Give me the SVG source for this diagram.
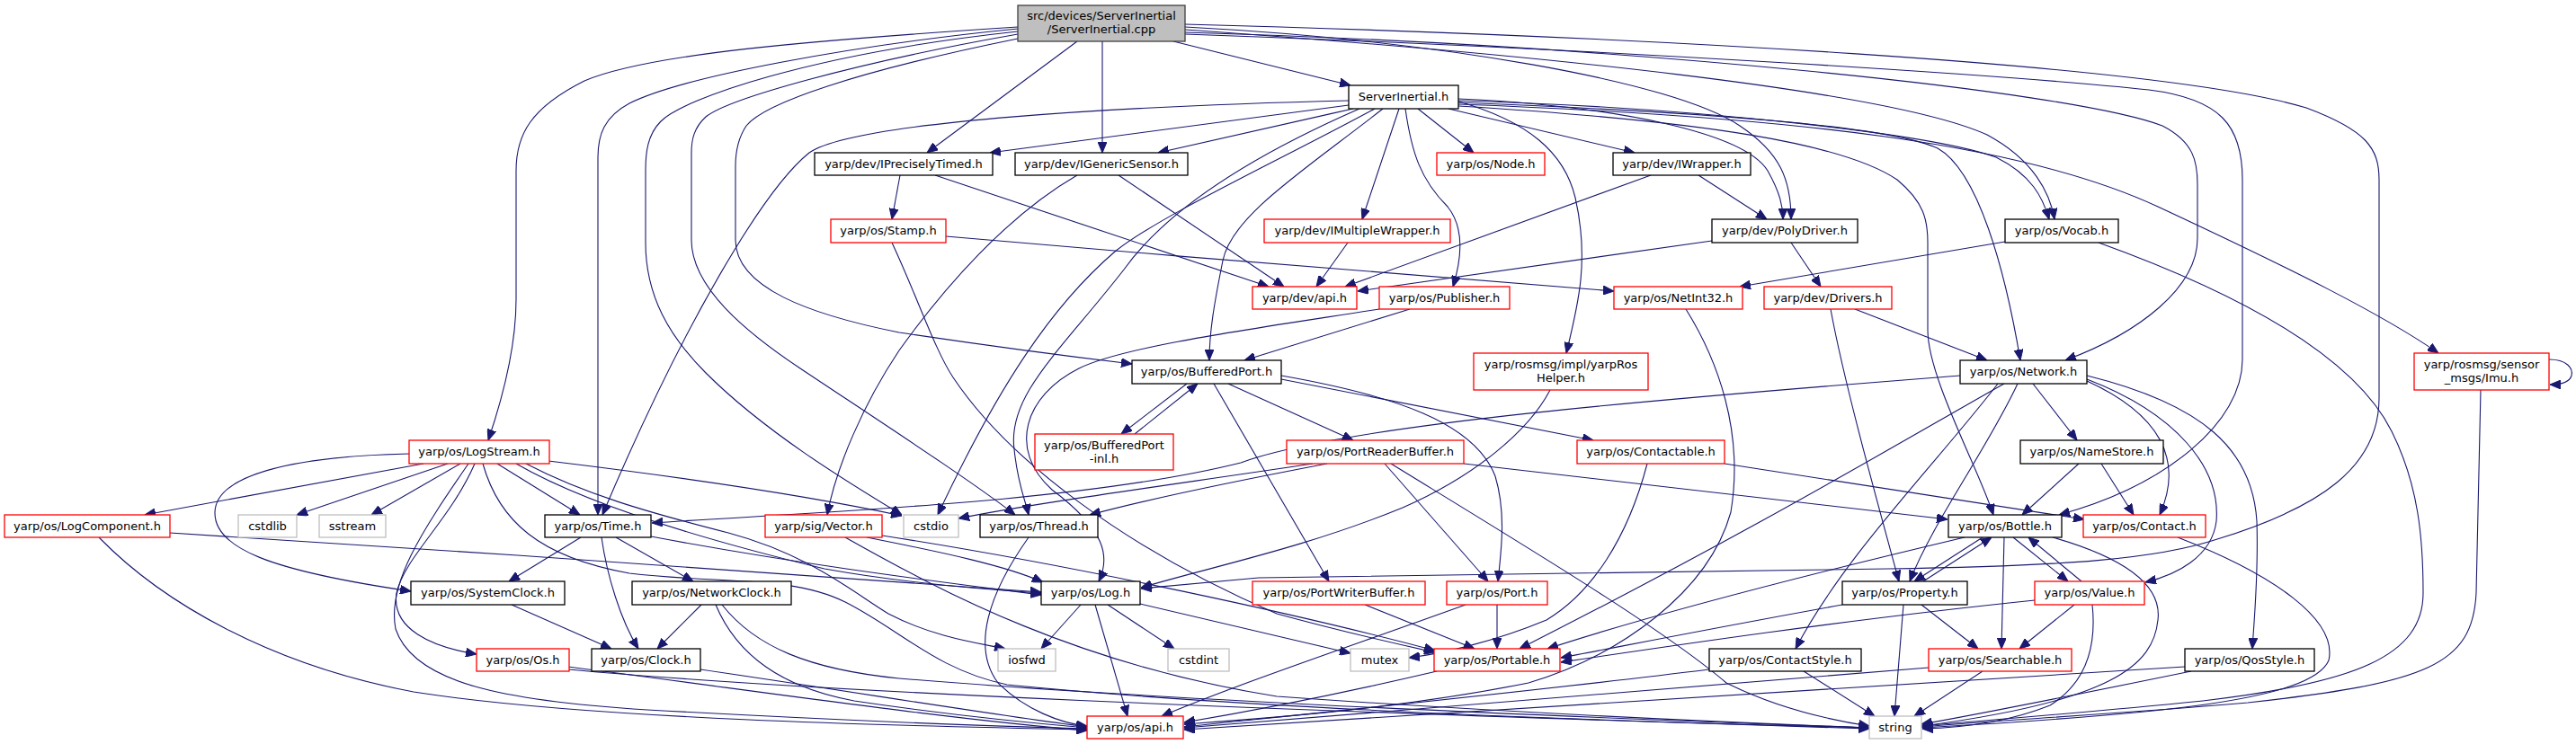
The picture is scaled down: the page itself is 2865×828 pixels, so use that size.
<svg xmlns="http://www.w3.org/2000/svg" width="2865" height="828" viewBox="0 0 2865 828">
<defs>
<marker id="a" markerWidth="12" markerHeight="10" refX="12" refY="5" orient="auto" markerUnits="userSpaceOnUse"><path d="M0,0 L12,5 L0,10 z" fill="#191970" stroke="#191970" stroke-width="1"/></marker>
<style>
rect{fill:#fff;stroke:#000;stroke-width:1.3}
.r rect{stroke:#ff0000}
.g rect{stroke:#bfbfbf}
.m rect{fill:#bfbfbf;stroke:#404040}
text{font-family:"DejaVu Sans","Liberation Sans",sans-serif;font-size:13px;text-anchor:middle;fill:#000}
#edges path{fill:none;stroke:#191970;stroke-width:1.1;marker-end:url(#a)}
</style>
</defs>
<rect x="0" y="0" width="2865" height="828" style="fill:#fff;stroke:none"/>
<g id="edges">
<path d="M1305,46 L1502,95"/>
<path d="M1198,46 L1031,170"/>
<path d="M1226,46 L1226,170"/>
<path d="M1132,30 C900,45 720,60 650,90 C590,120 574,150 574,190 L574,333 C574,385 560,440 543,490"/>
<path d="M1132,32 C950,50 760,85 700,115 C672,130 665,150 665,175 L665,573"/>
<path d="M1132,35 C900,60 760,110 735,135 C720,150 718,170 718,190 L718,270 C718,330 745,375 785,415 C850,480 940,535 1003,573"/>
<path d="M1132,38 C950,70 810,110 785,130 C772,142 769,155 769,170 L769,267 C769,320 830,370 890,410 C980,470 1080,535 1129,573"/>
<path d="M1132,43 C950,80 850,115 830,140 C820,155 818,170 818,185 L818,267 C818,320 900,350 1000,370 C1100,385 1200,398 1259,405"/>
<path d="M1318,30 C1600,45 1860,90 1935,140 C1980,170 1992,200 1992,244"/>
<path d="M1318,33 C1700,60 2100,100 2210,150 C2262,178 2280,215 2285,244"/>
<path d="M1318,36 C1800,50 2300,100 2405,140 C2440,158 2444,180 2444,205 L2444,265 C2444,320 2380,370 2297,401"/>
<path d="M1318,38 C1800,55 2250,85 2390,100 C2470,110 2494,140 2494,200 L2494,400 C2494,470 2410,540 2290,573"/>
<path d="M1318,27 C1800,40 2400,70 2565,120 C2632,145 2646,165 2646,200 L2646,443 C2646,520 2580,565 2466,600 C2400,622 2300,630 2100,633 L1400,643 L1269,655"/>
<path d="M1500,112 C1250,118 950,135 900,170 C850,210 760,360 670,573"/>
<path d="M1500,117 L1101,170"/>
<path d="M1505,121 C1420,140 1330,160 1288,170"/>
<path d="M1512,121 C1400,170 1300,230 1250,300 C1180,390 1120,440 1128,500 C1132,540 1140,555 1144,573"/>
<path d="M1529,121 C1420,180 1290,240 1240,280 C1170,340 1110,430 1043,573"/>
<path d="M1538,121 C1450,190 1370,240 1360,290 C1350,340 1345,370 1345,401"/>
<path d="M1556,121 L1515,244"/>
<path d="M1563,121 C1570,170 1580,200 1610,230 C1630,255 1625,290 1616,319"/>
<path d="M1577,121 L1639,170"/>
<path d="M1611,121 L1818,170"/>
<path d="M1622,113 C1700,135 1740,170 1752,220 C1768,290 1755,340 1742,393"/>
<path d="M1622,110 C1800,118 1940,148 1966,190 C1980,215 1983,230 1983,244"/>
<path d="M1622,112 C1900,120 2150,150 2220,175 C2260,195 2272,220 2279,244"/>
<path d="M1622,114 C1900,125 2100,140 2155,165 C2200,190 2230,300 2247,401"/>
<path d="M1622,116 C2000,130 2250,160 2400,230 C2550,300 2650,350 2712,393"/>
<path d="M1622,118 C1900,135 2050,160 2110,200 C2140,225 2144,245 2144,270 L2144,367 C2144,420 2200,520 2217,573"/>
<path d="M1001,195 L992,244"/>
<path d="M1040,195 L1411,319"/>
<path d="M1198,195 C1120,240 1050,320 1000,390 C960,450 930,520 920,573"/>
<path d="M1244,195 L1428,319"/>
<path d="M1836,195 L1496,319"/>
<path d="M1889,195 L1965,244"/>
<path d="M1052,263 C1300,285 1600,308 1795,324"/>
<path d="M992,270 C1020,330 1040,390 1060,420 C1120,510 1250,610 1420,683 C1500,705 1560,718 1596,726"/>
<path d="M1499,270 L1464,319"/>
<path d="M1904,268 L1510,324"/>
<path d="M1992,270 L2025,319"/>
<path d="M2230,269 L1935,319"/>
<path d="M2334,270 C2500,330 2620,400 2660,480 C2690,540 2695,600 2695,660 C2695,730 2620,760 2450,780 C2300,795 2200,802 2137,808"/>
<path d="M1534,344 C1400,365 1250,385 1200,410 C1140,440 1120,500 1170,545 C1230,590 1235,620 1222,647"/>
<path d="M1568,344 L1384,401"/>
<path d="M1875,344 C1910,400 1940,480 1925,570 C1900,660 1800,730 1700,760 C1550,790 1400,800 1317,806"/>
<path d="M2063,344 L2210,401"/>
<path d="M2036,344 C2050,420 2080,530 2112,647"/>
<path d="M1320,427 L1247,483"/>
<path d="M1262,483 L1332,427"/>
<path d="M1366,427 L1505,490"/>
<path d="M1425,422 L1772,490"/>
<path d="M1425,418 C1550,440 1640,470 1663,530 C1675,570 1670,610 1666,647"/>
<path d="M1350,427 L1478,647"/>
<path d="M1724,434 C1700,480 1640,530 1560,565 C1450,610 1350,630 1269,654"/>
<path d="M2180,418 C1900,440 1500,470 1380,515 C1200,560 900,570 725,582"/>
<path d="M2229,427 C2100,500 1950,590 1690,722"/>
<path d="M2222,427 C2150,520 2050,620 1997,722"/>
<path d="M2244,427 C2210,500 2150,580 2124,647"/>
<path d="M2261,427 L2310,490"/>
<path d="M2321,422 C2420,460 2470,520 2465,580 C2460,620 2420,640 2386,648"/>
<path d="M2321,424 C2400,460 2430,510 2402,573"/>
<path d="M2321,418 C2450,450 2505,500 2510,580 C2512,640 2507,690 2505,722"/>
<path d="M2835,400 C2855,400 2862,410 2860,418 C2858,425 2848,428 2836,428"/>
<path d="M2759,434 C2757,520 2755,600 2754,660 C2750,740 2700,760 2500,782 C2350,795 2200,803 2137,809"/>
<path d="M455,505 C320,508 240,530 239,570 C238,610 300,635 457,658"/>
<path d="M471,516 L161,573"/>
<path d="M498,516 L330,573"/>
<path d="M512,516 L413,573"/>
<path d="M553,516 L645,573"/>
<path d="M528,516 C500,580 450,620 441,660 C435,700 480,720 530,728"/>
<path d="M521,516 C470,590 430,650 440,700 C460,760 560,780 720,790 C900,800 1100,808 1209,811"/>
<path d="M610,513 C750,530 900,552 1003,574"/>
<path d="M574,516 C650,560 780,600 917,633 C1000,648 1080,655 1158,660"/>
<path d="M585,516 C650,550 720,570 810,593 C900,617 950,660 988,683 C1040,710 1090,716 1118,722"/>
<path d="M537,516 C555,580 600,620 700,638 C800,650 880,640 940,670 C1000,700 1040,745 1120,762 C1400,790 1800,803 2079,810"/>
<path d="M189,593 C500,612 900,640 1158,659"/>
<path d="M110,598 C180,670 300,740 460,770 C650,800 1000,808 1209,812"/>
<path d="M646,598 L566,647"/>
<path d="M669,598 C675,640 690,690 710,722"/>
<path d="M685,598 L771,647"/>
<path d="M724,597 C900,630 1050,648 1158,662"/>
<path d="M964,598 C1050,615 1120,630 1160,648"/>
<path d="M981,596 C1200,630 1450,685 1596,724"/>
<path d="M940,598 C1050,660 1200,740 1420,775 C1700,795 1950,805 2079,810"/>
<path d="M1144,598 C1100,660 1080,720 1110,760 C1140,790 1180,805 1209,808"/>
<path d="M569,673 L680,722"/>
<path d="M780,673 L731,722"/>
<path d="M796,673 C820,730 870,765 950,780 C1050,795 1150,805 1209,810"/>
<path d="M803,673 C840,720 900,745 1000,755 C1300,780 1800,800 2079,810"/>
<path d="M632,742 C850,770 1050,800 1209,813"/>
<path d="M632,745 C900,770 1400,790 2079,811"/>
<path d="M779,745 C950,770 1100,795 1209,809"/>
<path d="M1202,673 L1158,722"/>
<path d="M1218,673 L1254,797"/>
<path d="M1232,673 L1306,722"/>
<path d="M1268,672 L1502,727"/>
<path d="M1460,516 C1300,540 1150,560 1066,577"/>
<path d="M1476,516 C1350,540 1260,560 1212,573"/>
<path d="M1628,516 L2166,578"/>
<path d="M1540,516 L1655,647"/>
<path d="M1547,516 C1700,610 1850,700 1920,760 C1980,790 2040,802 2079,808"/>
<path d="M1832,516 C1810,600 1770,660 1720,690 C1660,715 1600,728 1567,732"/>
<path d="M1918,516 L2318,578"/>
<path d="M2312,516 L2249,573"/>
<path d="M2337,516 L2373,573"/>
<path d="M2205,598 L2129,647"/>
<path d="M2239,598 L2300,647"/>
<path d="M2229,598 L2226,722"/>
<path d="M2283,598 C2360,620 2405,650 2400,690 C2395,740 2350,780 2138,808"/>
<path d="M2185,598 C2050,630 1850,680 1721,722"/>
<path d="M2139,647 L2215,598"/>
<path d="M2049,673 C1900,700 1800,720 1736,732"/>
<path d="M2137,673 L2200,722"/>
<path d="M2117,673 L2107,797"/>
<path d="M2315,647 L2256,598"/>
<path d="M2263,668 C2050,690 1850,720 1736,737"/>
<path d="M2307,673 L2246,722"/>
<path d="M2327,673 C2332,720 2320,760 2280,785 C2230,805 2180,810 2138,811"/>
<path d="M2205,747 L2129,797"/>
<path d="M2145,743 C1800,770 1500,795 1317,810"/>
<path d="M2437,747 C2300,775 2200,795 2137,806"/>
<path d="M2430,742 C2000,770 1600,795 1317,812"/>
<path d="M1901,745 C1700,770 1450,795 1317,809"/>
<path d="M2006,747 L2085,797"/>
<path d="M1598,747 C1500,770 1400,790 1317,804"/>
<path d="M1665,673 L1665,722"/>
<path d="M1630,673 C1500,720 1380,760 1292,797"/>
<path d="M1518,673 L1640,722"/>
<path d="M2422,598 C2530,640 2600,690 2590,735 C2570,780 2400,795 2138,810"/>
</g>
<g id="n0" class="m"><rect x="1132" y="6" width="186" height="40"/><text x="1225" y="21.5">src/devices/ServerInertial</text><text x="1225" y="37">/ServerInertial.cpp</text></g>
<g id="n1"><rect x="1500" y="95" width="122" height="26"/><text x="1561" y="111.5">ServerInertial.h</text></g>
<g id="n2"><rect x="906" y="170" width="198" height="25"/><text x="1005" y="186.5">yarp/dev/IPreciselyTimed.h</text></g>
<g id="n3"><rect x="1129" y="170" width="192" height="25"/><text x="1225" y="186.5">yarp/dev/IGenericSensor.h</text></g>
<g id="n4" class="r"><rect x="1598" y="170" width="120" height="25"/><text x="1658" y="186.5">yarp/os/Node.h</text></g>
<g id="n5"><rect x="1794" y="170" width="153" height="25"/><text x="1870.5" y="186.5">yarp/dev/IWrapper.h</text></g>
<g id="n6" class="r"><rect x="924" y="244" width="128" height="26"/><text x="988" y="260.5">yarp/os/Stamp.h</text></g>
<g id="n7" class="r"><rect x="1406" y="244" width="207" height="26"/><text x="1509.5" y="260.5">yarp/dev/IMultipleWrapper.h</text></g>
<g id="n8"><rect x="1904" y="244" width="162" height="26"/><text x="1985" y="260.5">yarp/dev/PolyDriver.h</text></g>
<g id="n9"><rect x="2230" y="244" width="126" height="26"/><text x="2293" y="260.5">yarp/os/Vocab.h</text></g>
<g id="n10" class="r"><rect x="1393" y="319" width="116" height="25"/><text x="1451" y="335.5">yarp/dev/api.h</text></g>
<g id="n11" class="r"><rect x="1534" y="319" width="145" height="25"/><text x="1606.5" y="335.5">yarp/os/Publisher.h</text></g>
<g id="n12" class="r"><rect x="1795" y="319" width="143" height="25"/><text x="1866.5" y="335.5">yarp/os/NetInt32.h</text></g>
<g id="n13" class="r"><rect x="1962" y="319" width="142" height="25"/><text x="2033" y="335.5">yarp/dev/Drivers.h</text></g>
<g id="n14"><rect x="1259" y="401" width="166" height="26"/><text x="1342" y="417.5">yarp/os/BufferedPort.h</text></g>
<g id="n15" class="r"><rect x="1639" y="393" width="194" height="41"/><text x="1736" y="410">yarp/rosmsg/impl/yarpRos</text><text x="1736" y="425">Helper.h</text></g>
<g id="n16"><rect x="2180" y="401" width="141" height="26"/><text x="2250.5" y="417.5">yarp/os/Network.h</text></g>
<g id="n17" class="r"><rect x="2685" y="393" width="150" height="41"/><text x="2760" y="410">yarp/rosmsg/sensor</text><text x="2760" y="425">_msgs/Imu.h</text></g>
<g id="n18" class="r"><rect x="455" y="490" width="156" height="26"/><text x="533" y="506.5">yarp/os/LogStream.h</text></g>
<g id="n19" class="r"><rect x="1151" y="483" width="154" height="40"/><text x="1228" y="499.5">yarp/os/BufferedPort</text><text x="1228" y="515">-inl.h</text></g>
<g id="n20" class="r"><rect x="1431" y="490" width="197" height="26"/><text x="1529.5" y="506.5">yarp/os/PortReaderBuffer.h</text></g>
<g id="n21" class="r"><rect x="1754" y="490" width="164" height="26"/><text x="1836" y="506.5">yarp/os/Contactable.h</text></g>
<g id="n22"><rect x="2247" y="490" width="159" height="26"/><text x="2326.5" y="506.5">yarp/os/NameStore.h</text></g>
<g id="n23" class="r"><rect x="5" y="573" width="184" height="25"/><text x="97" y="589.5">yarp/os/LogComponent.h</text></g>
<g id="n24" class="g"><rect x="265" y="573" width="65" height="25"/><text x="297.5" y="589.5">cstdlib</text></g>
<g id="n25" class="g"><rect x="355" y="573" width="74" height="25"/><text x="392" y="589.5">sstream</text></g>
<g id="n26"><rect x="606" y="573" width="118" height="25"/><text x="665" y="589.5">yarp/os/Time.h</text></g>
<g id="n27" class="r"><rect x="851" y="573" width="130" height="25"/><text x="916" y="589.5">yarp/sig/Vector.h</text></g>
<g id="n28" class="g"><rect x="1005" y="573" width="61" height="25"/><text x="1035.5" y="589.5">cstdio</text></g>
<g id="n29"><rect x="1090" y="573" width="131" height="25"/><text x="1155.5" y="589.5">yarp/os/Thread.h</text></g>
<g id="n30"><rect x="2167" y="573" width="126" height="25"/><text x="2230" y="589.5">yarp/os/Bottle.h</text></g>
<g id="n31" class="r"><rect x="2317" y="573" width="136" height="25"/><text x="2385" y="589.5">yarp/os/Contact.h</text></g>
<g id="n32"><rect x="457" y="647" width="171" height="26"/><text x="542.5" y="663.5">yarp/os/SystemClock.h</text></g>
<g id="n33"><rect x="703" y="647" width="177" height="26"/><text x="791.5" y="663.5">yarp/os/NetworkClock.h</text></g>
<g id="n34"><rect x="1158" y="647" width="110" height="26"/><text x="1213" y="663.5">yarp/os/Log.h</text></g>
<g id="n35" class="r"><rect x="1393" y="647" width="192" height="26"/><text x="1489" y="663.5">yarp/os/PortWriterBuffer.h</text></g>
<g id="n36" class="r"><rect x="1609" y="647" width="112" height="26"/><text x="1665" y="663.5">yarp/os/Port.h</text></g>
<g id="n37"><rect x="2049" y="647" width="139" height="26"/><text x="2118.5" y="663.5">yarp/os/Property.h</text></g>
<g id="n38" class="r"><rect x="2263" y="647" width="122" height="26"/><text x="2324" y="663.5">yarp/os/Value.h</text></g>
<g id="n39" class="r"><rect x="530" y="722" width="103" height="25"/><text x="581.5" y="738.5">yarp/os/Os.h</text></g>
<g id="n40"><rect x="658" y="722" width="121" height="25"/><text x="718.5" y="738.5">yarp/os/Clock.h</text></g>
<g id="n41" class="g"><rect x="1110" y="722" width="64" height="25"/><text x="1142" y="738.5">iosfwd</text></g>
<g id="n42" class="g"><rect x="1299" y="722" width="68" height="25"/><text x="1333" y="738.5">cstdint</text></g>
<g id="n43" class="g"><rect x="1502" y="722" width="65" height="25"/><text x="1534.5" y="738.5">mutex</text></g>
<g id="n44" class="r"><rect x="1595" y="722" width="140" height="25"/><text x="1665" y="738.5">yarp/os/Portable.h</text></g>
<g id="n45"><rect x="1901" y="722" width="169" height="25"/><text x="1985.5" y="738.5">yarp/os/ContactStyle.h</text></g>
<g id="n46" class="r"><rect x="2145" y="722" width="159" height="25"/><text x="2224.5" y="738.5">yarp/os/Searchable.h</text></g>
<g id="n47"><rect x="2430" y="722" width="144" height="25"/><text x="2502" y="738.5">yarp/os/QosStyle.h</text></g>
<g id="n48" class="r"><rect x="1209" y="797" width="107" height="25"/><text x="1262.5" y="813.5">yarp/os/api.h</text></g>
<g id="n49" class="g"><rect x="2079" y="797" width="58" height="25"/><text x="2108" y="813.5">string</text></g>
</svg>
